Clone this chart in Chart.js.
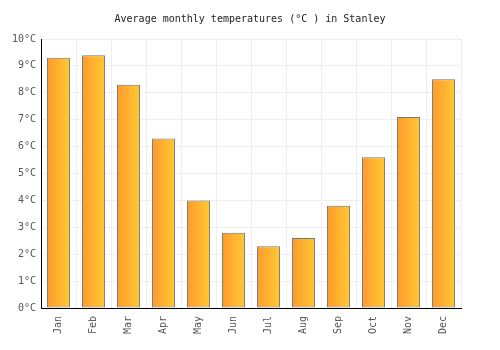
<!DOCTYPE html>
<html lang="en">
<head>
<meta charset="UTF-8">
<title>Average monthly temperatures in Stanley</title>
<script src="https://cdn.jsdelivr.net/npm/chart.js"></script>
<style>
  body { margin: 0; background: #fff; }
</style>
</head>
<body>
<canvas id="tempChart" width="500" height="350"></canvas>
<script>
// data
const months = ['Jan', 'Feb', 'Mar', 'Apr', 'May', 'Jun', 'Jul', 'Aug', 'Sep', 'Oct', 'Nov', 'Dec'];
const temps = [9.3, 9.4, 8.3, 6.3, 4.0, 2.8, 2.3, 2.6, 3.8, 5.6, 7.1, 8.5];
const yTicks = [0, 1, 2, 3, 4, 5, 6, 7, 8, 9, 10];

const FONT = "'DejaVu Sans Mono', monospace";

// paint every bar with its own horizontal orange -> yellow gradient
const barGradient = {
  id: 'barGradient',
  beforeDatasetsDraw(chart) {
    const ctx = chart.ctx;
    chart.getDatasetMeta(0).data.forEach(bar => {
      const left = bar.x - bar.width / 2;
      const right = bar.x + bar.width / 2;
      if (!isFinite(left) || !isFinite(right)) return;
      const g = ctx.createLinearGradient(left, 0, right, 0);
      g.addColorStop(0, '#ff9a2e');
      g.addColorStop(1, '#ffc933');
      // options objects are shared between bars, so give each its own copy
      bar.options = Object.assign({}, bar.options, { backgroundColor: g });
    });
  }
};

new Chart(document.getElementById('tempChart'), {
  type: 'bar',
  data: {
    labels: months,
    datasets: [{
      data: temps,
      backgroundColor: '#ffb030',
      borderColor: '#777777',
      borderWidth: 1,
      borderSkipped: false,
      barPercentage: 0.66,
      categoryPercentage: 1
    }]
  },
  plugins: [barGradient],
  options: {
    responsive: false,
    animation: false,
    layout: { padding: 0 },
    plugins: {
      legend: { display: false },
      tooltip: { enabled: false },
      title: {
        display: true,
        text: 'Average monthly temperatures (°C ) in Stanley',
        color: '#222',
        font: { family: FONT, size: 10, weight: 'normal' },
        padding: { top: 13, bottom: 14 }
      }
    },
    scales: {
      x: {
        afterFit: s => { s.height = 42; },
        grid: { color: '#eeeeee', drawTicks: false, offset: true },
        border: { color: '#000', width: 1 },
        ticks: {
          color: '#555',
          font: { family: FONT, size: 10 },
          minRotation: 90,
          maxRotation: 90,
          padding: 8
        }
      },
      y: {
        min: 0,
        max: 10,
        afterFit: s => { s.width = 41; },
        afterBuildTicks: s => { s.ticks = yTicks.map(v => ({ value: v })); },
        grid: { color: '#eeeeee', drawTicks: false },
        border: { color: '#000', width: 1 },
        ticks: {
          color: '#555',
          font: { family: FONT, size: 10 },
          padding: 5,
          callback: v => v + '°C'
        }
      },
      // empty right axis, only keeps the right margin
      yRight: {
        position: 'right',
        min: 0,
        max: 10,
        afterFit: s => { s.width = 39; },
        grid: { display: false },
        border: { display: false },
        ticks: { display: false }
      }
    }
  }
});
</script>
</body>
</html>
